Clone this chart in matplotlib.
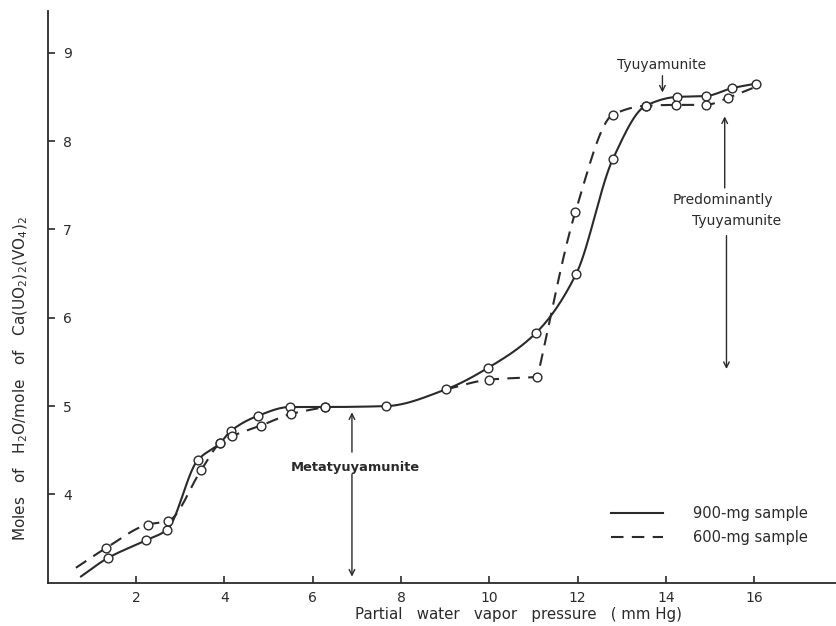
import numpy as np
import matplotlib
matplotlib.use("Agg")
import matplotlib.pyplot as plt
from matplotlib.lines import Line2D

# ---- data ----
x_900 = [0.75, 1.36, 2.22, 2.70, 3.40, 3.90, 4.15, 4.76, 5.48, 6.28, 7.66,
         9.02, 9.96, 11.06, 11.97, 12.80, 13.54, 14.24, 14.90, 15.50, 16.03]
y_900 = [3.07, 3.28, 3.48, 3.60, 4.39, 4.58, 4.72, 4.89, 4.99, 4.99, 5.00,
         5.19, 5.43, 5.83, 6.50, 7.80, 8.40, 8.50, 8.51, 8.60, 8.65]

x_600_a = [0.64, 1.31, 2.27, 2.73, 3.48, 3.90, 4.18, 4.83, 5.50, 6.28]
y_600_a = [3.17, 3.39, 3.66, 3.70, 4.28, 4.58, 4.66, 4.78, 4.91, 4.99]
x_600_b = [9.02, 10.00, 11.09, 11.95, 12.80, 13.54, 14.22, 14.90, 15.40, 15.96]
y_600_b = [5.19, 5.30, 5.33, 7.20, 8.30, 8.40, 8.41, 8.41, 8.49, 8.60]

x_ticks = [2, 4, 6, 8, 10, 12, 14, 16]
y_ticks = [4, 5, 6, 7, 8, 9]
legend_labels = ["900-mg sample", "600-mg sample"]


def pchip(x, y, n=300):
    x = np.asarray(x, float); y = np.asarray(y, float)
    h = np.diff(x); d = np.diff(y) / h
    m = np.zeros_like(y)
    for k in range(1, len(x) - 1):
        if d[k - 1] * d[k] <= 0:
            m[k] = 0.0
        else:
            w1 = 2 * h[k] + h[k - 1]; w2 = h[k] + 2 * h[k - 1]
            m[k] = (w1 + w2) / (w1 / d[k - 1] + w2 / d[k])
    m[0] = d[0]; m[-1] = d[-1]
    xs = np.linspace(x[0], x[-1], n)
    idx = np.clip(np.searchsorted(x, xs) - 1, 0, len(x) - 2)
    t = (xs - x[idx]) / h[idx]
    h00 = 2 * t**3 - 3 * t**2 + 1; h10 = t**3 - 2 * t**2 + t
    h01 = -2 * t**3 + 3 * t**2; h11 = t**3 - t**2
    ys = h00 * y[idx] + h10 * h[idx] * m[idx] + h01 * y[idx + 1] + h11 * h[idx] * m[idx + 1]
    return xs, ys


def smooth_pieces(x, y, breaks=()):
    """Smooth curve through the points, allowing sharp corners at given indices."""
    cuts = [0] + list(breaks) + [len(x) - 1]
    xs_all, ys_all = [], []
    for a, b in zip(cuts[:-1], cuts[1:]):
        xs, ys = pchip(x[a:b + 1], y[a:b + 1])
        xs_all.append(xs); ys_all.append(ys)
    return np.concatenate(xs_all), np.concatenate(ys_all)


plt.rcParams['font.family'] = ['DejaVu Sans']
fig = plt.figure(figsize=(8.36, 6.26), dpi=100)
ax = fig.add_axes([0.057, 0.069, 0.943, 0.913])

lc = '#2a2a2a'
mk = dict(marker='o', markersize=6.3, markerfacecolor='white',
          markeredgecolor=lc, markeredgewidth=1.0, linestyle='none', zorder=4)

xs, ys = pchip(x_900, y_900)
ax.plot(xs, ys, color=lc, lw=1.5, solid_capstyle='round')
ax.plot(x_900[1:], y_900[1:], **mk)

xs, ys = pchip(x_600_a, y_600_a)
ax.plot(xs, ys, color=lc, lw=1.5, dashes=(6, 4))
xs, ys = smooth_pieces(x_600_b, y_600_b, breaks=(2,))
ax.plot(xs, ys, color=lc, lw=1.5, dashes=(6, 4))
ax.plot(x_600_a[1:], y_600_a[1:], **mk)
ax.plot(x_600_b[1:-1], y_600_b[1:-1], **mk)

ax.set_xlim(0, 17.85)
ax.set_ylim(3, 9.47)
for s in ('top', 'right'):
    ax.spines[s].set_visible(False)
for s in ('left', 'bottom'):
    ax.spines[s].set_color(lc)
    ax.spines[s].set_linewidth(1.3)

ax.set_xticks(x_ticks)
ax.set_xticklabels([str(v) for v in x_ticks])
ax.set_yticks(y_ticks)
ax.set_yticklabels([str(v) for v in y_ticks])
ax.tick_params(axis='both', direction='in', length=5, width=1.2, colors=lc, labelsize=10)
ax.tick_params(axis='x', pad=6)
ax.tick_params(axis='y', pad=-11)
for lab in ax.get_yticklabels():
    lab.set_horizontalalignment('left')

ax.set_xlabel("Partial   water   vapor   pressure   ( mm Hg)", fontsize=10.8, color=lc)
ax.xaxis.set_label_coords(0.597, -0.042)
ax.set_ylabel(r"Moles   of   H$_2$O/mole   of   Ca(UO$_2$)$_2$(VO$_4$)$_2$",
              fontsize=11, color=lc)
ax.yaxis.set_label_coords(-0.022, 0.358)

arr = dict(arrowstyle='->', color=lc, lw=1.0, shrinkA=0, shrinkB=0)
fs_ann = 10
ax.text(13.9, 8.86, "Tyuyamunite", ha='center', va='center', fontsize=fs_ann, color=lc)
ax.annotate("", xy=(13.92, 8.55), xytext=(13.92, 8.74), arrowprops=arr)

ax.text(15.3, 7.33, "Predominantly", ha='center', va='center', fontsize=fs_ann, color=lc)
ax.text(15.6, 7.10, "Tyuyamunite", ha='center', va='center', fontsize=fs_ann, color=lc)
ax.annotate("", xy=(15.33, 8.28), xytext=(15.33, 7.47), arrowprops=arr)
ax.annotate("", xy=(15.37, 5.42), xytext=(15.37, 6.93), arrowprops=arr)

ax.text(6.96, 4.31, "Metatyuyamunite", ha='center', va='center', fontsize=9.4,
        fontweight='bold', color=lc)
ax.annotate("", xy=(6.89, 4.93), xytext=(6.89, 4.48), arrowprops=arr)
ax.annotate("", xy=(6.89, 3.07), xytext=(6.89, 4.23), arrowprops=arr)

handles = [Line2D([], [], color=lc, lw=1.5),
           Line2D([], [], color=lc, lw=1.5, dashes=(6, 4))]
ax.legend(handles, legend_labels, loc='upper left', bbox_to_anchor=(0.707, 0.144),
          frameon=False, fontsize=10.5, handlelength=3.6, handletextpad=2.05,
          labelspacing=0.6, labelcolor=lc, borderaxespad=0)

fig.savefig("out.png", dpi=100)
